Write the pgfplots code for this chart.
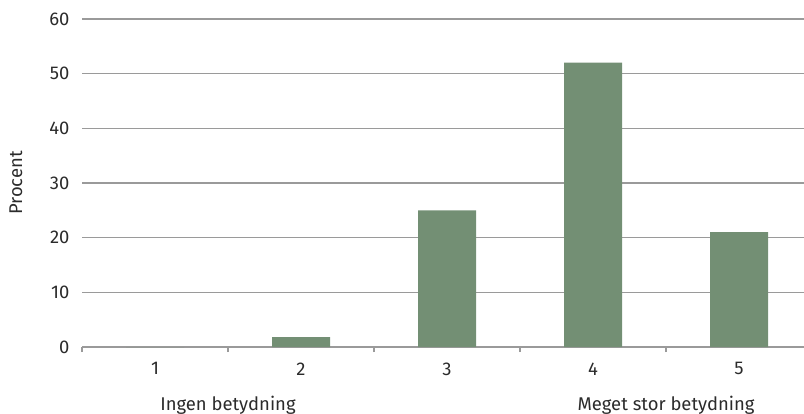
\documentclass[border=0pt]{standalone}
\usepackage{fontspec}
\setmainfont{Fira Sans}
\usepackage{pgfplots}
\pgfplotsset{compat=1.18}
\definecolor{barc}{HTML}{738F74}
\definecolor{gridc}{HTML}{9A9A9A}
\definecolor{txt}{HTML}{2B2B2B}
\newcommand\lf{\fontsize{18.5}{21}\selectfont}
\begin{document}
\begin{tikzpicture}[x=1bp,y=1bp]
\begin{axis}[
  at={(82bp,67bp)}, anchor=south west,
  scale only axis, width=722bp, height=328bp,
  xmin=0.5, xmax=5.445, ymin=0, ymax=60,
  ytick={0,10,...,60},
  xtick={1,2,3,4,5},
  minor xtick={0.5,1.5,2.5,3.5,4.5},
  axis x line*=bottom,
  axis y line*=left,
  x axis line style={gridc, line width=1.2pt, -},
  y axis line style={draw=none},
  ymajorgrids, grid style={gridc, line width=1.2pt},
  major tick length=0pt,
  minor tick length=5bp,
  tick style={gridc, line width=1.2pt},
  tick align=outside,
  ticklabel style={font=\lf, text=txt},
  /pgf/number format/assume math mode=true,
  xticklabel style={yshift=-12bp},
  yticklabel style={xshift=-9bp},
  ylabel={Procent},
  ylabel style={font=\lf, text=txt, at={(rel axis cs:0,0.5)}, anchor=center, yshift=66bp},
  clip=false,
]
\addplot[ybar, bar width=58bp, fill=barc, draw=none] coordinates {(1,0) (2,1.8) (3,25) (4,52) (5,21)};
\node[font=\lf, text=txt] at (axis cs:1.5,0) [yshift=-58bp] {Ingen betydning};
\node[font=\lf, text=txt] at (axis cs:4.5,0) [yshift=-58bp] {Meget stor betydning};
\end{axis}
\pgfresetboundingbox
\path (0,0) rectangle (804bp,414bp);
\end{tikzpicture}
\end{document}
